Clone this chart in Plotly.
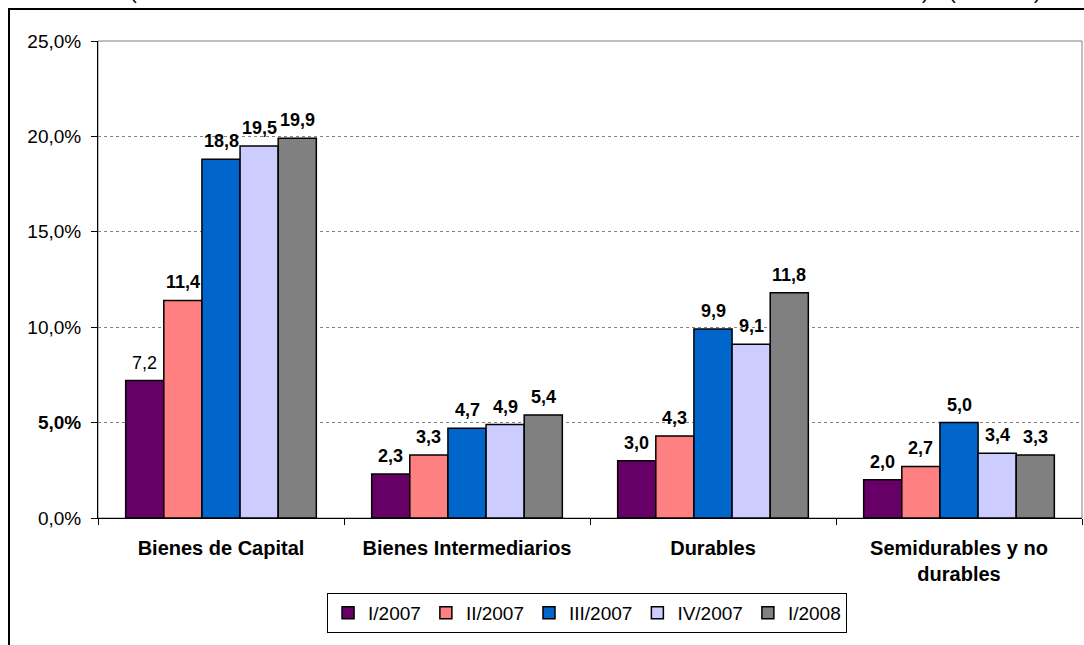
import plotly.graph_objects as go

categories = ["Bienes de Capital", "Bienes Intermediarios", "Durables", "Semidurables y no durables"]
category_labels = ["<b>Bienes de Capital</b>", "<b>Bienes Intermediarios</b>", "<b>Durables</b>",
                   "<b>Semidurables y no<br>durables</b>"]
series_names = ["I/2007", "II/2007", "III/2007", "IV/2007", "I/2008"]
series_colors = ["#660066", "#FF8080", "#0066CC", "#CCCCFF", "#808080"]
values = {
    "I/2007":   [7.2, 2.3, 3.0, 2.0],
    "II/2007":  [11.4, 3.3, 4.3, 2.7],
    "III/2007": [18.8, 4.7, 9.9, 5.0],
    "IV/2007":  [19.5, 4.9, 9.1, 3.4],
    "I/2008":   [19.9, 5.4, 11.8, 3.3],
}
non_bold_labels = {("I/2007", "Bienes de Capital")}
y_tickvals = [0, 5, 10, 15, 20, 25]
y_ticktext = ["0,0%", "<b>5,0%</b>", "10,0%", "15,0%", "20,0%", "25,0%"]

W, H = 1084, 645
ML, MR, MT, MB = 98, 2, 41, 127
BARGAP = 0.225
plot_w = W - ML - MR
plot_h = H - MT - MB
bar_px = plot_w / len(categories) * (1 - BARGAP) / len(series_names)

FONT = "Liberation Sans, Arial, sans-serif"

fig = go.Figure()
for name, color in zip(series_names, series_colors):
    fig.add_trace(go.Bar(
        name=name, x=categories, y=values[name],
        marker=dict(color=color, line=dict(color="#000000", width=1.5)),
    ))

annotations = []
n = len(series_names)
for i, name in enumerate(series_names):
    for cat, v in zip(categories, values[name]):
        txt = f"{v:.1f}".replace(".", ",")
        if (name, cat) not in non_bold_labels:
            txt = f"<b>{txt}</b>"
        annotations.append(dict(
            x=cat, y=v, xref="x", yref="y", text=txt, showarrow=False,
            xanchor="center", yanchor="bottom",
            xshift=(i - (n - 1) / 2) * bar_px, yshift=6,
            font=dict(family=FONT, size=18, color="#000000"),
        ))

def px_x(p):
    return (p - ML) / plot_w

def px_y(p):
    return (H - MB - p) / plot_h

# clipped parentheses of the cut-off title at the top (cut off in the original too)
for ch, xp in [("(", 133), (")", 925), ("(", 952), (")", 1037)]:
    annotations.append(dict(
        x=px_x(xp), y=px_y(5), xref="paper", yref="paper", text=ch, showarrow=False,
        xanchor="center", yanchor="bottom", font=dict(family=FONT, size=20, color="#000000"),
    ))

shapes = [
    # outer chart border
    dict(type="rect", xref="paper", yref="paper",
         x0=px_x(9), x1=px_x(1095), y0=px_y(9), y1=px_y(680),
         line=dict(color="#000000", width=2), fillcolor="rgba(0,0,0,0)", layer="below"),
    # plot area border
    dict(type="rect", xref="paper", yref="paper", x0=0, x1=px_x(1082), y0=0, y1=1,
         line=dict(color="#808080", width=1), fillcolor="rgba(0,0,0,0)", layer="below"),
]

fig.update_layout(
    width=W, height=H,
    margin=dict(l=ML, r=MR, t=MT, b=MB, autoexpand=False),
    barmode="group", bargap=BARGAP, bargroupgap=0,
    plot_bgcolor="#FFFFFF", paper_bgcolor="#FFFFFF",
    font=dict(family=FONT, size=19, color="#000000"),
    showlegend=True,
    legend=dict(
        orientation="h", x=0.497, xanchor="center", y=px_y(593), yanchor="top",
        font=dict(family=FONT, size=19, color="#000000"),
        bordercolor="#000000", borderwidth=1, bgcolor="#FFFFFF",
        itemwidth=30, traceorder="normal", tracegroupgap=0,
    ),
    annotations=annotations,
    shapes=shapes,
)
fig.update_xaxes(
    tickmode="array", tickvals=categories, ticktext=category_labels,
    tickfont=dict(family=FONT, size=20, color="#000000"),
    showline=True, linecolor="#000000", linewidth=1,
    ticks="outside", ticklen=6, tickcolor="#000000", tickson="boundaries",
    ticklabelstandoff=12,
    showgrid=False, zeroline=False, automargin=False,
)
fig.update_yaxes(
    range=[0, 25], tickmode="array", tickvals=y_tickvals, ticktext=y_ticktext,
    tickfont=dict(family=FONT, size=19, color="#000000"),
    showline=True, linecolor="#000000", linewidth=1,
    ticks="outside", ticklen=6, tickcolor="#000000",
    ticklabelstandoff=6,
    showgrid=True, gridcolor="#808080", griddash="dot", gridwidth=1,
    zeroline=False, automargin=False,
)

fig.write_html("out.html")
